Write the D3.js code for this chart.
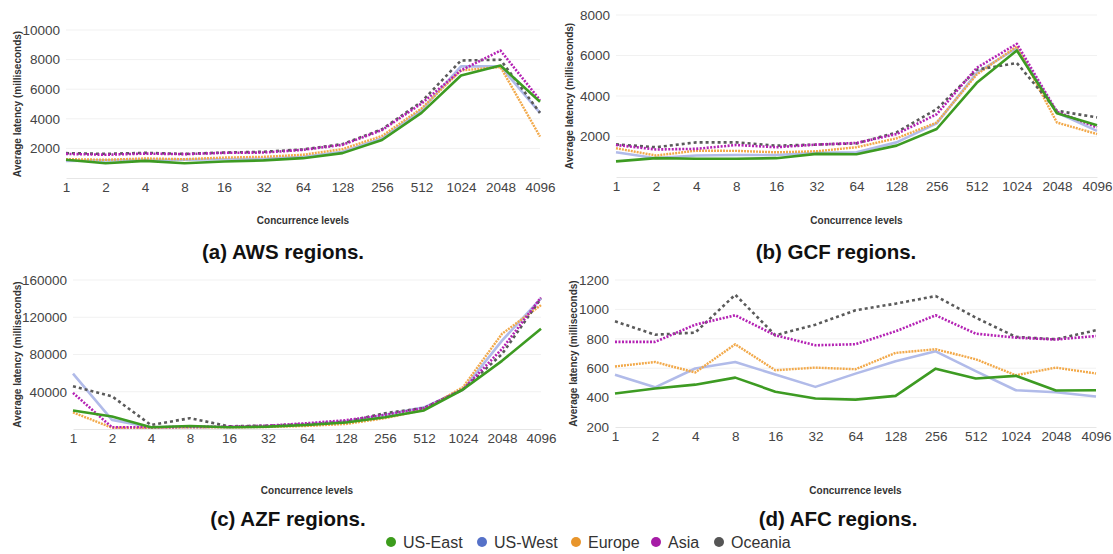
<!DOCTYPE html>
<html>
<head>
<meta charset="utf-8">
<script src="https://cdn.jsdelivr.net/npm/d3@7"></script>
<style>
  html, body { margin: 0; padding: 0; background: #fff; }
  svg { display: block; font-family: "Liberation Sans", Arial, Helvetica, sans-serif; }
</style>
</head>
<body>
<svg id="chart" width="1113" height="554"></svg>
<script>
// concurrence levels (x categories)
var levels = ['1', '2', '4', '8', '16', '32', '64', '128', '256', '512', '1024', '2048', '4096'];
var regions = ['US-East', 'US-West', 'Europe', 'Asia', 'Oceania'];

// (a) AWS
var awsEast    = [1230, 1000, 1160, 1000, 1120, 1190, 1340, 1680, 2570, 4400, 6930, 7600, 5150];
var awsWest    = [1160, 1190, 1230, 1230, 1270, 1300, 1430, 1770, 2680, 4590, 7540, 7540, 4400];
var awsEurope  = [1275, 1230, 1320, 1270, 1380, 1430, 1570, 1950, 2840, 4700, 7270, 7500, 2800];
var awsAsia    = [1630, 1570, 1650, 1610, 1700, 1720, 1900, 2240, 3240, 5030, 7270, 8610, 5260];
var awsOceania = [1680, 1630, 1700, 1630, 1720, 1770, 1930, 2290, 3290, 5150, 7940, 7990, 4400];

// (b) GCF
var gcfEast    = [770, 930, 900, 900, 930, 1140, 1120, 1550, 2370, 4650, 6250, 3150, 2560];
var gcfWest    = [1220, 930, 1060, 1090, 1090, 1190, 1220, 1710, 2650, 5140, 6370, 3180, 2280];
var gcfEurope  = [1420, 1060, 1300, 1290, 1220, 1270, 1470, 1910, 2690, 5060, 6450, 2690, 2120];
var gcfAsia    = [1580, 1360, 1390, 1580, 1470, 1600, 1680, 2120, 3100, 5390, 6580, 3220, 2450];
var gcfOceania = [1610, 1470, 1710, 1710, 1550, 1600, 1660, 2200, 3350, 5300, 5630, 3270, 2940];

// (c) AZF
var azfEast    = [19900, 13400, 1800, 3300, 1800, 2500, 4300, 6900, 12700, 19900, 42400, 73200, 107600];
var azfWest    = [59400, 9800, 1800, 2500, 2200, 2900, 5000, 7900, 15200, 23200, 42400, 94900, 140200];
var azfEurope  = [17800, 1400, 1400, 1800, 1800, 2200, 3300, 5400, 11600, 20600, 44900, 102200, 133000];
var azfAsia    = [38800, 1800, 1800, 2200, 2500, 3600, 6200, 9400, 15200, 22500, 42400, 85900, 141300];
var azfOceania = [46000, 35100, 4300, 11600, 2900, 3600, 5000, 7900, 17000, 22500, 42400, 80400, 140200];

// (d) AFC
var afcEast    = [428, 462, 488, 536, 440, 394, 386, 412, 597, 530, 548, 448, 450];
var afcWest    = [555, 470, 598, 642, 557, 473, 563, 648, 715, 580, 450, 436, 408];
var afcEurope  = [612, 642, 571, 763, 586, 604, 593, 704, 729, 661, 552, 604, 564];
var afcAsia    = [779, 779, 896, 960, 824, 756, 763, 851, 960, 835, 808, 795, 819];
var afcOceania = [919, 828, 842, 1100, 824, 896, 994, 1039, 1091, 944, 813, 797, 858];

var styles = {
  'US-East': { color: '#3d9b22', dash: null,  width: 2.6, dot: '#3c9c1c' },
  'US-West': { color: '#b1bbe9', dash: null,  width: 2.6, dot: '#5571c8' },
  'Europe':  { color: '#f2a94a', dash: '2,1', width: 2.4, dot: '#e8952b' },
  'Asia':    { color: '#b422b4', dash: '2,1.5', width: 2.6, dot: '#a61ca6' },
  'Oceania': { color: '#5a5a5a', dash: '3,3', width: 2.6, dot: '#555555' }
};
var drawOrder = ['US-West', 'Europe', 'Oceania', 'Asia', 'US-East'];

var panels = [
  { caption: '(a) AWS regions.', series: [awsEast, awsWest, awsEurope, awsAsia, awsOceania],
    x0: 66, x1: 540, yTop: 30, yBot: 178, domain: [0, 10000], ticks: [2000, 4000, 6000, 8000, 10000],
    titleX: 17, axisTitleY: 220, capX: 283, capY: 252 },
  { caption: '(b) GCF regions.', series: [gcfEast, gcfWest, gcfEurope, gcfAsia, gcfOceania],
    x0: 616, x1: 1097, yTop: 15, yBot: 177, domain: [0, 8000], ticks: [2000, 4000, 6000, 8000],
    titleX: 569, axisTitleY: 220, capX: 836, capY: 252 },
  { caption: '(c) AZF regions.', series: [azfEast, azfWest, azfEurope, azfAsia, azfOceania],
    x0: 73, x1: 541, yTop: 280, yBot: 429, domain: [0, 160000], ticks: [40000, 80000, 120000, 160000],
    titleX: 17, axisTitleY: 490, capX: 288, capY: 519 },
  { caption: '(d) AFC regions.', series: [afcEast, afcWest, afcEurope, afcAsia, afcOceania],
    x0: 615, x1: 1096, yTop: 280, yBot: 427, domain: [200, 1200], ticks: [200, 400, 600, 800, 1000, 1200],
    titleX: 573, axisTitleY: 490, capX: 838, capY: 519 }
];

var svg = d3.select('#chart');

panels.forEach(function (p) {
  var x = d3.scalePoint().domain(levels).range([p.x0, p.x1]);
  var y = d3.scaleLinear().domain(p.domain).range([p.yBot, p.yTop]);
  var g = svg.append('g');

  // gridlines
  g.append('g').selectAll('line').data(p.ticks.filter(function (t) { return t !== p.domain[0]; }))
    .enter().append('line')
    .attr('x1', p.x0).attr('x2', p.x1)
    .attr('y1', function (d) { return y(d); }).attr('y2', function (d) { return y(d); })
    .attr('stroke', '#f1f1f1').attr('stroke-width', 1);

  // y axis labels
  var ya = g.append('g').attr('transform', 'translate(' + p.x0 + ',0)')
    .call(d3.axisLeft(y).tickValues(p.ticks).tickFormat(d3.format('d')).tickSize(0).tickPadding(6));
  ya.select('.domain').remove();
  ya.selectAll('text').attr('fill', '#444').attr('font-size', '13.5px')
    .attr('font-family', '"Liberation Sans", Arial, sans-serif');

  // x axis
  var xa = g.append('g').attr('transform', 'translate(0,' + p.yBot + ')')
    .call(d3.axisBottom(x).tickSize(0).tickPadding(4));
  xa.select('.domain').attr('stroke', '#e6e6e6');
  xa.selectAll('text').attr('fill', '#444').attr('font-size', '13.5px')
    .attr('font-family', '"Liberation Sans", Arial, sans-serif');

  // lines
  drawOrder.forEach(function (name) {
    var vals = p.series[regions.indexOf(name)];
    var st = styles[name];
    var line = d3.line()
      .x(function (d, i) { return x(levels[i]); })
      .y(function (d) { return y(d); });
    g.append('path').datum(vals).attr('d', line)
      .attr('fill', 'none').attr('stroke', st.color).attr('stroke-width', st.width)
      .attr('stroke-dasharray', st.dash).attr('stroke-linejoin', 'round');
  });

  // axis titles
  g.append('text')
    .attr('transform', 'translate(' + p.titleX + ',' + ((p.yTop + p.yBot) / 2) + ') rotate(-90)')
    .attr('text-anchor', 'middle').attr('dy', '0.35em')
    .attr('font-size', '10px').attr('font-weight', 'bold').attr('fill', '#333')
    .text('Average latency (milliseconds)');
  g.append('text')
    .attr('x', (p.x0 + p.x1) / 2).attr('y', p.axisTitleY).attr('dy', '0.35em')
    .attr('text-anchor', 'middle')
    .attr('font-size', '10px').attr('font-weight', 'bold').attr('fill', '#333')
    .text('Concurrence levels');

  // caption
  g.append('text')
    .attr('x', p.capX).attr('y', p.capY).attr('dy', '0.35em')
    .attr('text-anchor', 'middle')
    .attr('font-size', '20.5px').attr('font-weight', 'bold').attr('fill', '#111')
    .text(p.caption);
});

// legend
var legendX = [391, 482, 576, 656, 719];
var legend = svg.append('g');
regions.forEach(function (name, i) {
  legend.append('circle').attr('cx', legendX[i]).attr('cy', 542).attr('r', 5)
    .attr('fill', styles[name].dot);
  legend.append('text').attr('x', legendX[i] + 12).attr('y', 542).attr('dy', '0.35em')
    .attr('font-size', '16px').attr('fill', '#333')
    .text(name);
});
</script>
</body>
</html>
